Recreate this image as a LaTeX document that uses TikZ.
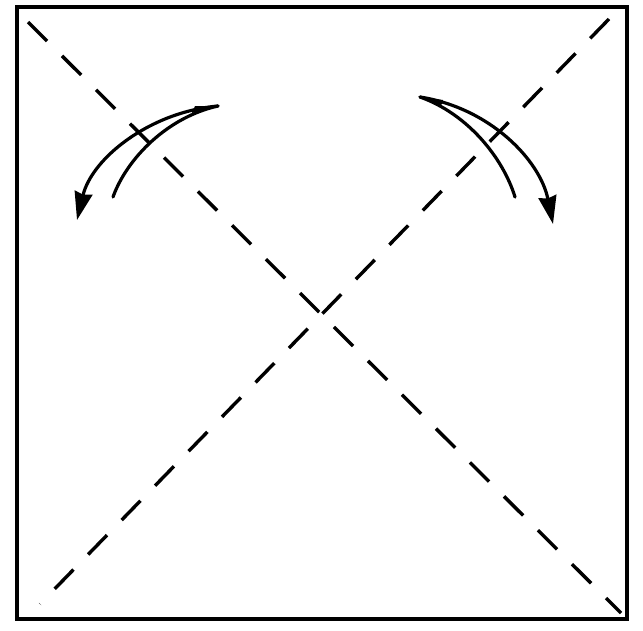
\documentclass[tikz,border=0pt]{standalone}
\usetikzlibrary{arrows.meta}
\begin{document}
\begin{tikzpicture}[x=1pt,y=-1pt,
  paper/.style={line width=4pt,line join=miter},
  crease/.style={line width=3.4pt,dash pattern=on 27pt off 21pt},
  foldarrow/.style={line width=3.2pt,line cap=round},
  foldhead/.style={-{Stealth[length=28pt,width=18pt,inset=2pt]}}]
\useasboundingbox[fill=white] (0,0) rectangle (643,630);
% paper square
\coordinate (tl) at (17,7);
\coordinate (tr) at (627,7);
\coordinate (br) at (627,619);
\coordinate (bl) at (17,619);
\draw[paper] (tl) -- (tr) -- (br) -- (bl) -- cycle;
% diagonal creases
\coordinate (d1a) at (28,22);
\coordinate (d1b) at (621,613);
\coordinate (d2a) at (609,19);
\coordinate (d2b) at (40,604);
\draw[crease] (d1a) -- (d1b);
\draw[crease] (d2a) -- (d2b);
% left fold arrow
\coordinate (ls) at (218,106);
\coordinate (le) at (77,220);
\coordinate (li) at (113,197);
\draw[foldarrow,foldhead] (ls) .. controls (150,112) and (92,158) .. (le);
\draw[foldarrow] (ls) .. controls (168,117) and (127,158) .. (li);
\fill (ls) -- (195,106) -- (192,113) -- cycle;
% right fold arrow
\coordinate (rs) at (420,97);
\coordinate (re) at (553,224);
\coordinate (ri) at (515,197);
\draw[foldarrow,foldhead] (rs) .. controls (490,108) and (540,160) .. (re);
\draw[foldarrow] (rs) .. controls (468,114) and (503,158) .. (ri);
\fill (rs) -- (443,100) -- (441,106) -- cycle;
\end{tikzpicture}
\end{document}
